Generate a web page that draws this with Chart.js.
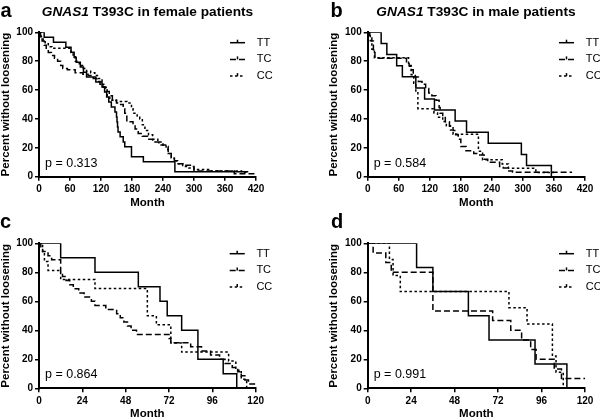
<!DOCTYPE html>
<html>
<head>
<meta charset="utf-8">
<title>GNAS1 T393C loosening</title>
<script src="https://cdn.jsdelivr.net/npm/chart.js@4.4.0/dist/chart.umd.min.js"></script>
<style>
  html, body { margin: 0; padding: 0; background: #fff; overflow: hidden; }
  #wrap { position: relative; width: 600px; height: 420px; background: #fff; color: #000;
          font-family: 'Liberation Sans', Arial, sans-serif; }
  #wrap canvas { position: absolute; }
  .letter { position: absolute; font-size: 20px; line-height: 20px; font-weight: bold; }
  .title { position: absolute; width: 240px; text-align: center; font-size: 13.7px; line-height: 16px;
           font-weight: bold; white-space: nowrap; }
</style>
</head>
<body>
<div id="wrap">
  <canvas id="panelA" width="300" height="210" style="left:0;top:0"></canvas>
  <canvas id="panelB" width="300" height="210" style="left:300px;top:0"></canvas>
  <canvas id="panelC" width="300" height="210" style="left:0;top:210px"></canvas>
  <canvas id="panelD" width="300" height="210" style="left:300px;top:210px"></canvas>

  <div class="letter" style="left:0.5px;top:0">a</div>
  <div class="letter" style="left:330.5px;top:0">b</div>
  <div class="letter" style="left:0;top:211px">c</div>
  <div class="letter" style="left:331px;top:211px">d</div>
  <div class="title" style="left:27.5px;top:3.5px"><i>GNAS1</i> T393C in female patients</div>
  <div class="title" style="left:356px;top:3.5px"><i>GNAS1</i> T393C in male patients</div>
</div>

<script>
// Kaplan-Meier curves, percent without loosening vs. month

const genotypes = ['TT', 'TC', 'CC'];
const yTicks = [0, 20, 40, 60, 80, 100];
const monthTicksLong = [0, 60, 120, 180, 240, 300, 360, 420];
const monthTicksShort = [0, 24, 48, 72, 96, 120];
const pValues = ['0.313', '0.584', '0.864', '0.991'];

// a - female patients
const femaleTTMonths = [0, 10, 28, 52, 62, 68, 72, 80, 86, 92, 110, 122, 127, 131, 135, 140, 147, 150, 151, 152, 153, 157, 163, 166, 179, 202, 263, 405];
const femaleTTPct = [100, 96.6, 93.1, 89.7, 86.2, 82.8, 79.3, 75.9, 72.4, 69.0, 65.5, 62.1, 58.6, 55.2, 51.7, 48.3, 44.8, 41.4, 37.9, 34.5, 31.0, 27.6, 24.1, 20.7, 13.8, 10.3, 3.4, 3.4];
const femaleTCMonths = [0, 3, 6, 10, 14, 18, 24, 30, 36, 42, 46, 55, 70, 85, 95, 105, 112, 118, 124, 130, 136, 142, 150, 158, 163, 166, 170, 182, 186, 192, 200, 210, 220, 232, 245, 250, 256, 262, 268, 280, 295, 300, 378, 420];
const femaleTCPct = [100, 97, 94, 91, 88, 86, 84, 82, 80, 77, 75, 74, 72, 71, 70, 68, 66, 64, 62, 59, 56, 53, 51, 50, 47, 44, 38, 36, 33, 30, 28, 26, 24, 22, 21, 16, 13, 11, 9, 8, 7, 4, 2, 2];
const femaleCCMonths = [0, 4, 8, 12, 18, 25, 62, 66, 70, 78, 86, 92, 100, 108, 115, 122, 128, 132, 137, 150, 170, 179, 182, 190, 195, 200, 205, 212, 220, 230, 240, 246, 250, 256, 262, 268, 278, 290, 300, 330, 392, 405];
const femaleCCPct = [100, 97, 94, 92, 90, 89, 86, 83, 80, 77, 75, 73, 72, 70, 68, 64, 60, 56, 53, 52, 51, 47, 44, 42, 40, 36, 32, 29, 26, 24, 22, 19, 16, 13, 11, 9, 7, 6, 5, 4, 3, 3];

// b - male patients
const maleTTMonths = [0, 26, 37, 56, 67, 93, 110, 129, 169, 191, 233, 297, 307, 355];
const maleTTPct = [100, 92.3, 84.6, 76.9, 69.2, 61.5, 53.8, 46.2, 38.5, 30.8, 23.1, 15.4, 7.7, 0];
const maleTCMonths = [0, 4, 8, 11, 14, 75, 80, 84, 88, 92, 98, 105, 112, 118, 124, 132, 138, 140, 145, 150, 158, 165, 170, 175, 180, 190, 205, 215, 225, 232, 255, 262, 270, 280, 395];
const maleTCPct = [100, 97, 94, 88, 82, 79, 77, 74, 71, 69, 66, 64, 61, 58, 56, 53, 48, 44, 41, 38, 35, 32, 29, 26, 21, 18, 16, 15, 12, 10, 7, 6, 4, 3, 3];
const maleCCMonths = [0, 5, 8, 13, 79, 84, 89, 93, 97, 128, 135, 145, 152, 160, 165, 214, 222, 260, 272, 325, 360];
const maleCCPct = [100, 94.1, 88.2, 82.4, 76.5, 70.6, 64.7, 58.8, 47.1, 44.1, 41.2, 38.2, 35.3, 32.4, 29.4, 17.6, 11.8, 8.8, 5.9, 2.9, 2.9];

// c
const cTTMonths = [0, 12, 31, 55, 67, 71, 79, 88, 102, 109.5];
const cTTPct = [100, 90, 80, 70, 60, 50, 40, 20, 10, 0];
const cTCMonths = [0, 1, 2, 5, 7, 12, 13, 15, 17, 19, 22, 25, 29, 31, 37, 43, 45, 47, 49, 51, 54, 72, 73, 84, 90, 95, 100, 103, 107, 110, 112, 114, 116, 120];
const cTCPct = [100, 97.1, 94.3, 91.4, 88.6, 80, 77.1, 74.3, 71.4, 68.6, 65.7, 62.9, 60, 57.1, 54.3, 51.4, 48.6, 45.7, 42.9, 40, 37.1, 34.3, 31.4, 28.6, 25.7, 22.9, 20, 17.1, 14.3, 11.4, 8.6, 5.7, 2.9, 2.9];
const cCCMonths = [0, 2, 3, 5, 12, 31, 60, 65, 73, 79, 105, 109, 112, 115];
const cCCPct = [100, 93.8, 87.5, 81.3, 75, 68.8, 50, 43.8, 31.3, 25, 18.8, 12.5, 6.3, 0];

// d
const dTTMonths = [0, 27, 36, 55.6, 67, 92.4, 110];
const dTTPct = [100, 83.3, 66.7, 50, 33.3, 16.7, 0];
const dTCMonths = [0, 3, 10, 13, 36, 69, 79, 85, 90, 93, 103, 107, 120];
const dTCPct = [100, 93.3, 86.7, 80, 53.3, 46.7, 40, 33.3, 26.7, 20, 13.3, 6.7, 6.7];
const dCCMonths = [0, 12, 14, 18, 78, 88, 102, 104, 108];
const dCCPct = [100, 88.9, 77.8, 66.7, 55.6, 44.4, 22.2, 11.1, 0];

const FONT = "'Liberation Sans', Arial, sans-serif";
const dashes = [[], [6, 3], [2.5, 2.5]];

// legend + p value drawn next to the plot area
const kmLegend = {
    id: 'kmLegend',
    afterDraw(chart, args, opts) {
        const { ctx, chartArea } = chart;
        ctx.save();
        ctx.strokeStyle = '#000';
        ctx.fillStyle = '#000';
        ctx.lineWidth = 1.5;
        ctx.font = '11px ' + FONT;
        ctx.textBaseline = 'middle';
        chart.data.datasets.forEach((ds, i) => {
            const y = chartArea.top + 10.4 + i * 16.7;
            const x0 = chartArea.right - 26;
            const x1 = chartArea.right - 11;
            ctx.setLineDash(ds.borderDash);
            ctx.beginPath();
            ctx.moveTo(x0, y);
            ctx.lineTo(x1, y);
            ctx.stroke();
            ctx.setLineDash([]);
            ctx.beginPath();
            ctx.moveTo((x0 + x1) / 2, y - 3);
            ctx.lineTo((x0 + x1) / 2, y);
            ctx.stroke();
            ctx.fillText(ds.label, chartArea.right + 0.7, y);
        });
        ctx.font = '12.5px ' + FONT;
        ctx.textBaseline = 'alphabetic';
        ctx.fillText('p = ' + opts.p, chartArea.left + 6, chartArea.bottom - 10);
        ctx.restore();
    }
};

const panels = [
    { id: 'panelA', series: [[femaleTTMonths, femaleTTPct], [femaleTCMonths, femaleTCPct], [femaleCCMonths, femaleCCPct]],
      xTicks: monthTicksLong, p: pValues[0], box: { padL: 0, yW: 39, padR: 44, padT: 32.3, xH: 33.3, titleB: 1.5 } },
    { id: 'panelB', series: [[maleTTMonths, maleTTPct], [maleTCMonths, maleTCPct], [maleCCMonths, maleCCPct]],
      xTicks: monthTicksLong, p: pValues[1], box: { padL: 27.8, yW: 39.9, padR: 15, padT: 32.3, xH: 33.3, titleB: 1.5 } },
    { id: 'panelC', series: [[cTTMonths, cTTPct], [cTCMonths, cTCPct], [cCCMonths, cCCPct]],
      xTicks: monthTicksShort, p: pValues[2], box: { padL: 0, yW: 39, padR: 44.3, padT: 33.3, xH: 31.7, titleB: 0.5 } },
    { id: 'panelD', series: [[dTTMonths, dTTPct], [dTCMonths, dTCPct], [dCCMonths, dCCPct]],
      xTicks: monthTicksShort, p: pValues[3], box: { padL: 27.8, yW: 39.9, padR: 15, padT: 33.3, xH: 31.7, titleB: 0.5 } }
];

function axisStyle() {
    return {
        grid: { display: true, drawOnChartArea: false, drawTicks: true, tickLength: 4, color: '#000', lineWidth: 1.5 },
        border: { display: true, color: '#000', width: 2 },
        ticks: { color: '#000', autoSkip: false, maxRotation: 0, padding: 2, font: { family: FONT, size: 10, weight: 'bold' } }
    };
}

panels.forEach(panel => {
    const b = panel.box;
    const xAxis = axisStyle();
    const yAxis = axisStyle();
    xAxis.ticks.padding = 3;

    new Chart(document.getElementById(panel.id), {
        type: 'line',
        data: {
            datasets: panel.series.map((s, i) => ({
                label: genotypes[i],
                data: s[0].map((m, k) => ({ x: m, y: s[1][k] })),
                borderColor: '#000',
                borderWidth: 1.5,
                borderDash: dashes[i],
                stepped: 'before',
                pointRadius: 0,
                fill: false
            }))
        },
        options: {
            responsive: false,
            animation: false,
            devicePixelRatio: 1,
            layout: { padding: { left: b.padL, right: b.padR, top: b.padT, bottom: 0 } },
            plugins: {
                legend: { display: false },
                tooltip: { enabled: false },
                kmLegend: { p: panel.p }
            },
            scales: {
                x: Object.assign(xAxis, {
                    type: 'linear',
                    min: 0,
                    max: panel.xTicks[panel.xTicks.length - 1],
                    afterBuildTicks: sc => { sc.ticks = panel.xTicks.map(v => ({ value: v })); },
                    afterFit: sc => { sc.height = b.xH; },
                    title: { display: true, text: 'Month', color: '#000',
                             font: { family: FONT, size: 11.5, weight: 'bold', lineHeight: 1 },
                             padding: { top: 0, bottom: b.titleB } }
                }),
                y: Object.assign(yAxis, {
                    min: 0,
                    max: 100,
                    afterBuildTicks: sc => { sc.ticks = yTicks.map(v => ({ value: v })); },
                    afterFit: sc => { sc.width = b.yW; },
                    title: { display: true, text: 'Percent without loosening', color: '#000',
                             font: { family: FONT, size: 11.5, weight: 'bold', lineHeight: 1 },
                             padding: { top: 0, bottom: 0 } }
                })
            }
        },
        plugins: [kmLegend]
    });
});
</script>
</body>
</html>
